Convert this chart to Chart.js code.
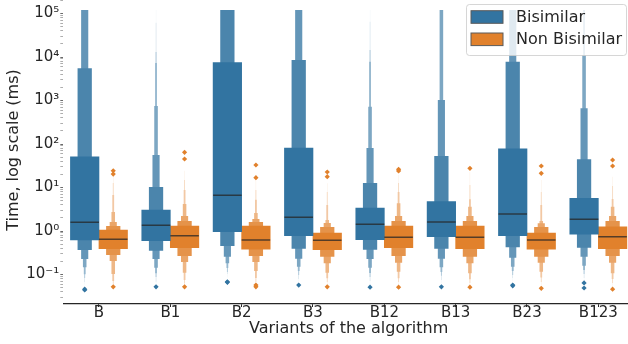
<!DOCTYPE html>
<html>
<head>
<meta charset="utf-8">
<script src="https://cdn.jsdelivr.net/npm/chart.js@4/dist/chart.umd.min.js"></script>
<style>
    html, body { margin: 0; padding: 0; background: #fff; overflow: hidden; width: 628px; height: 344px; }
    #chart { position: absolute; left: 0; top: -4px; }
</style>
</head>
<body>
<canvas id="chart" width="636" height="348"></canvas>
<script>
// Categories and series
const variants = ['B', 'B1', 'B2', 'B3', 'B12', 'B13', 'B23', 'B123'];
const seriesNames = ['Bisimilar', 'Non Bisimilar'];

// Letter-value boxes, innermost level first; one value per variant (ms)
const bisLow = [
    [0.62, 0.60, 0.96, 0.78, 0.63, 0.74, 0.78, 0.84],
    [0.366, 0.352, 0.452, 0.392, 0.372, 0.392, 0.422, 0.413],
    [0.227, 0.227, 0.257, 0.231, 0.227, 0.231, 0.243, 0.257],
    [0.146, 0.143, 0.181, 0.151, 0.143, 0.146, 0.151, 0.159],
    [0.101, 0.107, 0.141, 0.120, 0.108, 0.114, 0.120, 0.127],
    [0.083, 0.088, 0.114, 0.098, 0.088, 0.093, 0.098, 0.103],
    [0.067, 0.068, 0.103, 0.079, 0.071, 0.075, 0.083, 0.083],
    [0.058, 0.060, 0.085, 0.068, 0.060, 0.064, 0.070, 0.070]
];
const bisHigh = [
    [51, 3.04, 7400, 81, 3.38, 4.72, 77, 5.65],
    [5500, 10.3, 120000, 8530, 12.7, 53, 7800, 44.5],
    [120000, 56, 120000, 120000, 81, 1026, 120000, 662],
    [120000, 748, 120000, 120000, 720, 120000, 120000, 11100],
    [120000, 7280, 120000, 120000, 7800, 120000, 120000, 120000],
    [120000, 13000, 120000, 120000, 14500, 120000, 120000, 120000],
    [120000, 61500, 120000, 120000, 64700, 120000, 120000, 120000],
    [120000, 120000, 120000, 120000, 120000, 120000, 120000, 120000]
];
const bisMedian = [1.58, 1.35, 6.6, 2.07, 1.43, 1.61, 2.46, 1.86];
const bisOutliers = [[0.046, 0.044], [0.052], [0.068, 0.066], [0.057], [0.051], [0.052], [0.057, 0.055], [0.064, 0.049]];

const nonLow = [
    [0.392, 0.413, 0.380, 0.372, 0.413, 0.392, 0.380, 0.392],
    [0.281, 0.266, 0.266, 0.257, 0.266, 0.257, 0.257, 0.266],
    [0.204, 0.194, 0.194, 0.181, 0.187, 0.181, 0.187, 0.187],
    [0.103, 0.110, 0.120, 0.110, 0.116, 0.107, 0.116, 0.107],
    [0.071, 0.075, 0.083, 0.082, 0.082, 0.078, 0.085, 0.079],
    [0.061, 0.062, 0.067, 0.067, 0.067, 0.064, 0.067, 0.064],
    [0.056, 0.056, 0.059, 0.057, 0.057, 0.056, 0.057, 0.056]
];
const nonHigh = [
    [1.05, 1.30, 1.30, 0.90, 1.30, 1.30, 0.90, 1.24],
    [1.30, 1.70, 1.61, 1.24, 1.70, 1.70, 1.24, 1.70],
    [1.61, 2.21, 1.89, 1.53, 2.21, 2.21, 1.50, 2.21],
    [2.73, 4.18, 2.59, 1.79, 4.33, 3.62, 1.70, 3.62],
    [6.7, 8.8, 5.2, 3.96, 7.9, 5.35, 3.96, 5.45],
    [12.7, 14.9, 8.8, 7.9, 12.7, 11.4, 7.9, 10.8],
    [18.4, 24.3, 14.9, 12.5, 19.4, 22.7, 14.9, 17.7]
];
const nonMedian = [0.644, 0.78, 0.62, 0.611, 0.716, 0.716, 0.62, 0.74];
const nonOutliers = [[24.3, 20.4, 0.052], [64.4, 45.2, 0.052], [32.9, 16.8, 0.057, 0.052], [22.7, 17.7, 0.052],
    [26.2, 24.0, 0.051], [27.6, 0.051], [31.2, 21.2, 0.048], [42.9, 31.2, 0.046]];

// Axis
const yTickValues = [0.1, 1, 10, 100, 1000, 10000, 100000];
const yTickLabels = ['10⁻¹', '10⁰', '10¹', '10²', '10³', '10⁴', '10⁵'];
const yMin = 0.02098;
const yMax = 252600;

// ==================== STYLE ====================
const textColor = '#262626';
const hueColors = ['#3274a1', '#e1812c'];
Chart.defaults.font.family = "'DejaVu Sans', sans-serif";

// outer levels fade towards white (up to 85%)
function levelColor(hex, j, k) {
    const t = 0.85 * j / (k - 1);
    const n = parseInt(hex.slice(1), 16);
    const rgb = [(n >> 16) & 255, (n >> 8) & 255, n & 255].map(c => Math.round(c + (255 - c) * t));
    return `rgb(${rgb.join(',')})`;
}

const hues = [
    { lows: bisLow, highs: bisHigh, median: bisMedian, outliers: bisOutliers, color: hueColors[0], shift: -0.2 },
    { lows: nonLow, highs: nonHigh, median: nonMedian, outliers: nonOutliers, color: hueColors[1], shift: 0.2 }
];

const datasets = [];

// medians and outliers on top
hues.forEach(h => {
    datasets.push({
        type: 'scatter',
        xAxisID: 'x2',
        order: -1,
        data: h.median.map((m, i) => ({ x: i + h.shift, y: m })),
        pointStyle: 'line',
        pointRadius: (c) => {
            const s = c.chart.scales.x2;
            const r = s.getPixelForValue(0.2) - s.getPixelForValue(0);
            return isFinite(r) ? r : 14;
        },
        pointBorderColor: 'rgba(38,38,38,0.75)',
        pointBorderWidth: 1.5
    });
    datasets.push({
        type: 'scatter',
        xAxisID: 'x2',
        order: -1,
        data: h.outliers.flatMap((vals, i) => vals.map(v => ({ x: i + h.shift, y: v }))),
        pointStyle: 'rectRot',
        pointRadius: 2.6,
        pointBackgroundColor: h.color,
        pointBorderWidth: 0
    });
});

// letter-value boxes: each level half as wide as the one inside it
hues.forEach(h => {
    const k = h.lows.length;
    h.lows.forEach((lo, j) => {
        datasets.push({
            type: 'bar',
            xAxisID: 'x2',
            grouped: false,
            data: lo.map((l, i) => ({ x: i + h.shift, y: [l, h.highs[j][i]] })),
            backgroundColor: levelColor(h.color, j, k),
            borderWidth: 0,
            categoryPercentage: 1,
            barPercentage: Math.pow(0.5, j)
        });
    });
});

// ==================== LEGEND ====================
const legendBox = {
    id: 'legendBox',
    afterDraw(chart) {
        const ctx = chart.ctx;
        const a = chart.chartArea;
        const w = 160, h = 51;
        const x = a.right - 8 - w, y = a.top + 8;
        ctx.save();
        ctx.beginPath();
        ctx.roundRect(x + 0.5, y + 0.5, w, h, 3);
        ctx.fillStyle = 'rgba(255,255,255,0.8)';
        ctx.fill();
        ctx.strokeStyle = 'rgba(204,204,204,0.8)';
        ctx.lineWidth = 1;
        ctx.stroke();
        ctx.font = "16px 'DejaVu Sans'";
        ctx.textBaseline = 'middle';
        seriesNames.forEach((name, i) => {
            const py = y + 6.7 + i * 22.3;
            ctx.fillStyle = hueColors[i];
            ctx.fillRect(x + 5, py, 32, 12.6);
            ctx.strokeStyle = '#5a5a5a';
            ctx.strokeRect(x + 5, py, 32, 12.6);
            ctx.fillStyle = textColor;
            ctx.fillText(name, x + 50, py + 6.8);
        });
        ctx.restore();
    }
};

// ==================== CHART ====================
const ctx = document.getElementById('chart').getContext('2d');
new Chart(ctx, {
    type: 'bar',
    data: { labels: variants, datasets },
    plugins: [legendBox],
    options: {
        responsive: false,
        devicePixelRatio: 1,
        animation: false,
        events: [],
        layout: { autoPadding: false, padding: { left: 0, right: 2, top: 0, bottom: 0 } },
        plugins: { legend: { display: false }, tooltip: { enabled: false } },
        scales: {
            x: {
                type: 'category',
                offset: true,
                grid: { offset: false, drawOnChartArea: false, drawTicks: true, tickLength: 3, color: textColor, lineWidth: 1 },
                border: { display: true, color: textColor, width: 1.25 },
                ticks: { color: textColor, font: { size: 15, lineHeight: 1 }, padding: -1, maxRotation: 0, autoSkip: false },
                title: { display: true, text: 'Variants of the algorithm', color: textColor, font: { size: 16 }, padding: { top: 0, bottom: 6 } },
                afterFit: (s) => { s.height = 40; s.paddingLeft = 0; s.paddingRight = 0; }
            },
            x2: {
                type: 'linear',
                axis: 'x',
                position: 'bottom',
                display: false,
                offset: false,
                min: -0.5,
                max: 7.5,
                afterBuildTicks: (s) => { s.ticks = variants.map((_, i) => ({ value: i })); }
            },
            y: {
                type: 'logarithmic',
                position: 'left',
                min: yMin,
                max: yMax,
                stacked: false,
                border: { display: false },
                grid: {
                    drawOnChartArea: false, drawTicks: true, tickLength: 3, lineWidth: 0.8,
                    tickColor: (c) => yTickValues.some(t => Math.abs(t - c.tick.value) / t < 1e-6) ? '#444' : '#999'
                },
                ticks: {
                    autoSkip: false,
                    padding: 1,
                    color: textColor,
                    font: { size: 15 },
                    callback: (v) => {
                        const i = yTickValues.findIndex(t => Math.abs(t - v) / t < 1e-6);
                        return i >= 0 ? yTickLabels[i] : '';
                    }
                },
                afterBuildTicks: (s) => {
                    const t = [];
                    for (let e = -2; e <= 5; e++) {
                        for (let m = 1; m <= 9; m++) {
                            const v = m * Math.pow(10, e);
                            if (v >= s.min && v <= s.max) t.push({ value: v });
                        }
                    }
                    s.ticks = t;
                },
                title: { display: true, text: 'Time, log scale (ms)', color: textColor, font: { size: 16 }, padding: { top: 4.5, bottom: 0 } },
                afterFit: (s) => { s.width = 63.3; s.paddingTop = 0; s.paddingBottom = 0; }
            }
        }
    }
});
</script>
</body>
</html>
